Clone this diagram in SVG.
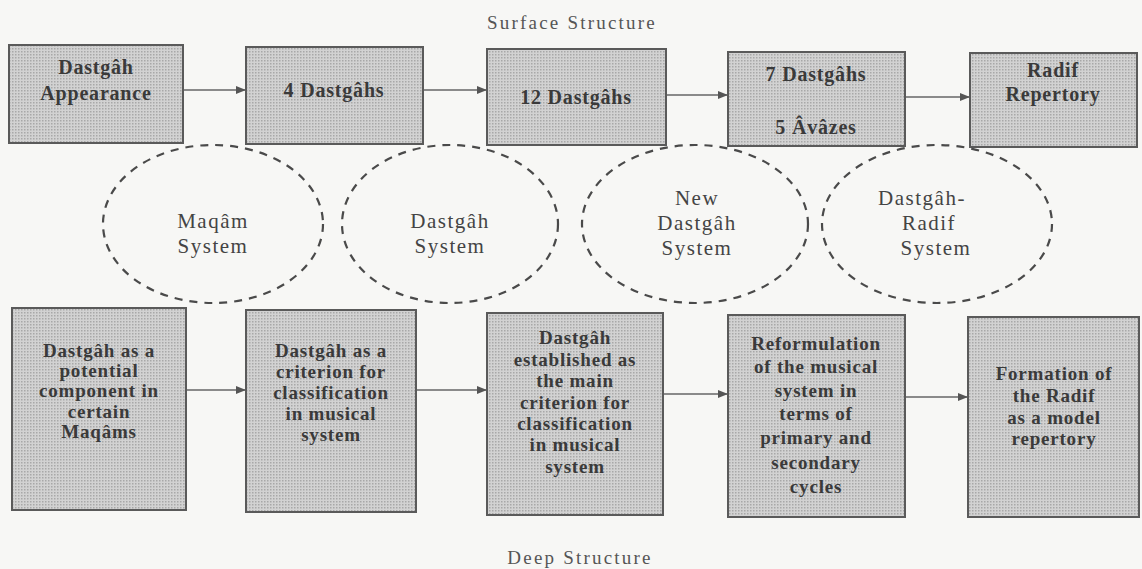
<svg xmlns="http://www.w3.org/2000/svg" width="1142" height="569" viewBox="0 0 1142 569">
<style>
.box{fill:url(#dots);stroke:#5a5a5a;stroke-width:2}
.bt{font-family:"Liberation Serif",serif;font-weight:bold;font-size:19px;letter-spacing:0.8px;fill:#3a3a3a;text-anchor:middle;dominant-baseline:central}
.tt{font-size:20px}
.el{fill:none;stroke:#4a4a4a;stroke-width:2.2;stroke-dasharray:8 7}
.et{font-family:"Liberation Serif",serif;font-size:21px;letter-spacing:1.5px;fill:#444;text-anchor:middle;dominant-baseline:central}
.cap{font-family:"Liberation Serif",serif;font-size:19px;letter-spacing:2.2px;fill:#555;text-anchor:middle;dominant-baseline:central}
.ln{stroke:#666;stroke-width:1.6;fill:none;marker-end:url(#ah)}
</style>
<defs>
<pattern id="dots" width="3" height="3" patternUnits="userSpaceOnUse">
<rect width="3" height="3" fill="#d2d2d2"/>
<rect width="1.5" height="1.5" fill="#a8a8a8"/>
</pattern>
<marker id="ah" viewBox="0 0 10 10" refX="10" refY="5" markerWidth="10" markerHeight="10" markerUnits="userSpaceOnUse" orient="auto">
<path d="M0,1 L10,5 L0,9 Z" fill="#555"/>
</marker>
</defs>
<rect width="1142" height="569" fill="#f7f7f5"/>
<text class="cap" x="572" y="22">Surface Structure</text>
<text class="cap" x="580" y="557">Deep Structure</text>

<g id="connectors">
<line class="ln" x1="183" y1="90" x2="246" y2="90"/>
<line class="ln" x1="423" y1="90" x2="487" y2="90"/>
<line class="ln" x1="666" y1="95" x2="728" y2="95"/>
<line class="ln" x1="905" y1="97" x2="970" y2="97"/>
<line class="ln" x1="186" y1="390" x2="246" y2="390"/>
<line class="ln" x1="416" y1="390" x2="487" y2="390"/>
<line class="ln" x1="663" y1="394" x2="728" y2="394"/>
<line class="ln" x1="905" y1="397" x2="968" y2="397"/>
</g>

<g id="t1"><rect class="box" x="9" y="45" width="174" height="98"/>
<text class="bt tt" x="96" y="67">Dastgâh</text><text class="bt tt" x="96" y="93">Appearance</text></g>
<g id="t2"><rect class="box" x="246" y="47" width="177" height="97"/>
<text class="bt tt" x="334" y="90">4 Dastgâhs</text></g>
<g id="t3"><rect class="box" x="487" y="49" width="179" height="96"/>
<text class="bt tt" x="576" y="97">12 Dastgâhs</text></g>
<g id="t4"><rect class="box" x="728" y="52" width="177" height="94"/>
<text class="bt tt" x="816" y="74">7 Dastgâhs</text><text class="bt tt" x="816" y="127">5 Âvâzes</text></g>
<g id="t5"><rect class="box" x="970" y="53" width="167" height="94"/>
<text class="bt tt" x="1053" y="70">Radif</text><text class="bt tt" x="1053" y="94">Repertory</text></g>

<g id="e1"><ellipse class="el" cx="213" cy="224" rx="110" ry="79"/>
<text class="et" x="213" y="221">Maqâm</text><text class="et" x="213" y="246">System</text></g>
<g id="e2"><ellipse class="el" cx="450" cy="224" rx="108" ry="79"/>
<text class="et" x="450" y="221">Dastgâh</text><text class="et" x="450" y="246">System</text></g>
<g id="e3"><ellipse class="el" cx="695" cy="224" rx="113" ry="79"/>
<text class="et" x="697" y="198">New</text><text class="et" x="697" y="223">Dastgâh</text><text class="et" x="697" y="248">System</text></g>
<g id="e4"><ellipse class="el" cx="937" cy="224" rx="115" ry="79"/>
<text class="et" x="922" y="198">Dastgâh-</text><text class="et" x="929" y="223">Radif</text><text class="et" x="936" y="248">System</text></g>

<g id="b1"><rect class="box" x="12" y="308" width="174" height="202"/>
<text class="bt" x="99" y="350">Dastgâh as a</text><text class="bt" x="99" y="370">potential</text><text class="bt" x="99" y="390">component in</text><text class="bt" x="99" y="411">certain</text><text class="bt" x="99" y="431">Maqâms</text></g>
<g id="b2"><rect class="box" x="246" y="310" width="170" height="202"/>
<text class="bt" x="331" y="350">Dastgâh as a</text><text class="bt" x="331" y="371">criterion for</text><text class="bt" x="331" y="392">classification</text><text class="bt" x="331" y="413">in musical</text><text class="bt" x="331" y="434">system</text></g>
<g id="b3"><rect class="box" x="487" y="313" width="176" height="202"/>
<text class="bt" x="575" y="337">Dastgâh</text><text class="bt" x="575" y="359">established as</text><text class="bt" x="575" y="380">the main</text><text class="bt" x="575" y="402">criterion for</text><text class="bt" x="575" y="423">classification</text><text class="bt" x="575" y="444">in musical</text><text class="bt" x="575" y="466">system</text></g>
<g id="b4"><rect class="box" x="728" y="315" width="177" height="202"/>
<text class="bt" x="816" y="343">Reformulation</text><text class="bt" x="816" y="366">of the musical</text><text class="bt" x="816" y="390">system in</text><text class="bt" x="816" y="413">terms of</text><text class="bt" x="816" y="437">primary and</text><text class="bt" x="816" y="462">secondary</text><text class="bt" x="816" y="486">cycles</text></g>
<g id="b5"><rect class="box" x="968" y="317" width="171" height="200"/>
<text class="bt" x="1054" y="373">Formation of</text><text class="bt" x="1054" y="395">the Radif</text><text class="bt" x="1054" y="417">as a model</text><text class="bt" x="1054" y="438">repertory</text></g>
</svg>
